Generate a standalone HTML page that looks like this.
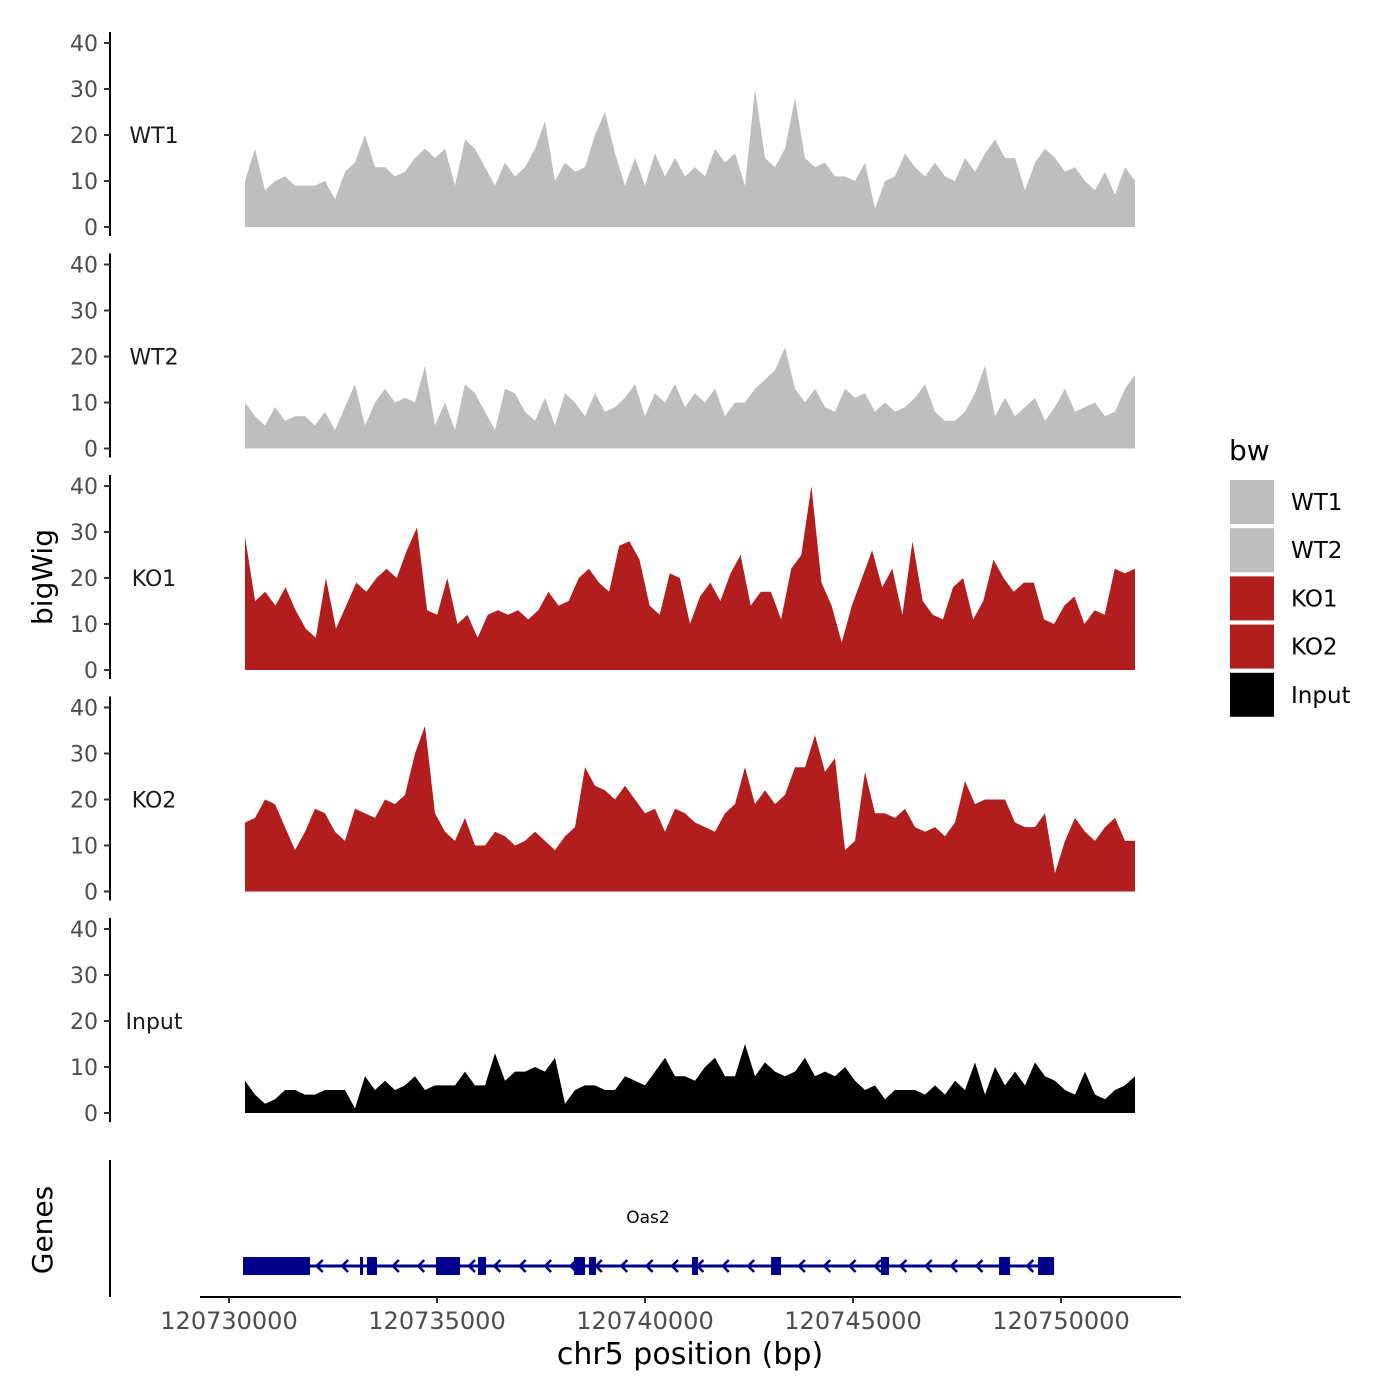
<!DOCTYPE html>
<html><head><meta charset="utf-8"><style>
body{margin:0;background:#fff;}
svg{display:block;font-family:"DejaVu Sans","Liberation Sans",sans-serif;}
</style></head><body>
<svg id="chart" width="1400" height="1400">
<g id="panels"></g>
<g id="genes"></g>
<g id="xaxis"></g>
<g id="legend"></g>
</svg>
<script>
const trackNames = ["WT1","WT2","KO1","KO2","Input"];
const trackColors = ["#bebebe","#bebebe","#b21e1e","#b21e1e","#000000"];
const dataStart = 120730385;
const dataEnd = 120751780;
const wt1 = [10,17,8,10,11,9,9,9,10,6,12,14,20,13,13,11,12,15,17,15,17,9,19,17,13,9,14,11,13,17,23,10,14,12,13,20,25,16,9,15,9,16,11,15,11,13,11,17,14,16,9,30,15,13,17,28,15,13,14,11,11,10,14,4,10,11,16,13,11,14,11,10,15,12,16,19,15,15,8,14,17,15,12,13,10,8,12,7,13,10];
const wt2 = [10,7,5,9,6,7,7,5,8,4,9,14,5,10,13,10,11,10,18,5,10,4,14,12,8,4,13,12,8,6,11,5,12,10,7,12,8,9,11,14,7,12,10,14,9,12,10,13,7,10,10,13,15,17,22,13,10,13,9,8,13,11,12,8,10,8,9,11,14,8,6,6,8,12,18,7,11,7,9,11,6,9,13,8,9,10,7,8,13,16];
const ko1 = [29,15,17,14,18,13,9,7,20,9,14,19,17,20,22,20,26,31,13,12,20,10,12,7,12,13,12,13,11,13,17,14,15,20,22,19,17,27,28,24,14,12,21,20,10,16,19,15,21,25,14,17,17,11,22,25,40,19,14,6,14,20,26,18,22,12,28,15,12,11,18,20,11,15,24,20,17,19,19,11,10,14,16,10,13,12,22,21,22];
const ko2 = [15,16,20,19,14,9,13,18,17,13,11,18,17,16,20,19,21,30,36,17,13,11,16,10,10,13,12,10,11,13,11,9,12,14,27,23,22,20,23,20,17,18,13,18,17,15,14,13,17,19,27,19,22,19,21,27,27,34,26,29,9,11,26,17,17,16,18,14,13,14,12,15,24,19,20,20,20,15,14,14,17,4,11,16,13,11,14,16,11,11];
const input = [7,4,2,3,5,5,4,4,5,5,5,1,8,5,7,5,6,8,5,6,6,6,9,6,6,13,7,9,9,10,9,12,2,5,6,6,5,5,8,7,6,9,12,8,8,7,10,12,8,8,15,8,11,9,8,9,12,8,9,8,10,7,5,6,3,5,5,5,4,6,4,7,5,11,4,10,6,9,6,11,8,7,5,4,9,4,3,5,6,8];
const yTicks = [0,10,20,30,40];
const xTicks = [120730000,120735000,120740000,120745000,120750000];
const exonStarts = [120730337,120733149,120733317,120734976,120735986,120738294,120738654,120741130,120743030,120745674,120748511,120749448];
const exonEnds   = [120731947,120733221,120733558,120735553,120736178,120738558,120738822,120741274,120743270,120745866,120748775,120749833];
const geneName = "Oas2";
const geneStart = 120730337, geneEnd = 120749833;

const series = [wt1,wt2,ko1,ko2,input];
const NS="http://www.w3.org/2000/svg";
function mk(tag,attrs,parent){const e=document.createElementNS(NS,tag);for(const k in attrs)e.setAttribute(k,attrs[k]);parent.appendChild(e);return e;}
const xScale = bp => 229 + (bp-120730000)/20000*832;
const panelBase = i => 227 + i*221.5;
const yScale = (i,v) => panelBase(i) - v*4.6;

const panels=document.getElementById('panels');
series.forEach((vals,i)=>{
  const g=mk('g',{},panels);
  
  
  const n=vals.length;
  let d='M'+xScale(dataStart)+','+panelBase(i);
  vals.forEach((v,j)=>{const bp=dataStart+(dataEnd-dataStart)*j/(n-1);d+=' L'+xScale(bp).toFixed(1)+','+yScale(i,v).toFixed(1);});
  d+=' L'+xScale(dataEnd)+','+panelBase(i)+' Z';
  const p=mk('path',{d:d,fill:trackColors[i]},g);
  
  
  const ax=mk('line',{x1:110,x2:110,y1:yScale(i,40)-11,y2:panelBase(i)+9,stroke:'#000','stroke-width':2},g);
  
  
  yTicks.forEach(t=>{
    const y=yScale(i,t);
    mk('line',{x1:104,x2:110,y1:y,y2:y,stroke:'#333','stroke-width':2},g);
    const tx=mk('text',{x:98,y:y+8,'text-anchor':'end','font-size':22,fill:'#4d4d4d'},g);
    tx.textContent=t;
    
    
  });
  const lb=mk('text',{x:154,y:yScale(i,20)+8,'text-anchor':'middle','font-size':22,fill:'#1a1a1a'},g);
  lb.textContent=trackNames[i];
  
  
});
const yt=mk('text',{x:52,y:577,'text-anchor':'middle','font-size':28,transform:'rotate(-90 52 577)'},panels);
yt.textContent='bigWig';



const genes=document.getElementById('genes');
const gl=mk('line',{x1:110,x2:110,y1:1160,y2:1297,stroke:'#000','stroke-width':2},genes);


const gt=mk('text',{x:52,y:1230,'text-anchor':'middle','font-size':28,transform:'rotate(-90 52 1230)'},genes);
gt.textContent='Genes';


const gy=1266;
const intron=mk('line',{x1:xScale(geneStart),x2:xScale(geneEnd),y1:gy,y2:gy,stroke:'#00008b','stroke-width':3},genes);


for(let bp=geneStart+600;bp<geneEnd-200;bp+=610){
  const x=xScale(bp);
  mk('path',{d:`M${x+4},${gy-6} L${x-2},${gy} L${x+4},${gy+6}`,stroke:'#00008b','stroke-width':2.5,fill:'none'},genes);
}
exonStarts.forEach((s,k)=>{
  const x1=xScale(s),x2=xScale(exonEnds[k]);
  const r=mk('rect',{x:x1,y:gy-9,width:Math.max(3,x2-x1),height:18,fill:'#00008b'},genes);
  
  
});
const gn=mk('text',{x:648,y:1223,'text-anchor':'middle','font-size':17},genes);
gn.textContent=geneName;



const xa=document.getElementById('xaxis');
mk('line',{x1:200,x2:1181,y1:1297,y2:1297,stroke:'#000','stroke-width':2},xa);
xTicks.forEach(t=>{
  const x=xScale(t);
  mk('line',{x1:x,x2:x,y1:1297,y2:1303,stroke:'#333','stroke-width':2},xa);
  const tx=mk('text',{x:x,y:1329,'text-anchor':'middle','font-size':24,fill:'#4d4d4d'},xa);
  tx.textContent=t;
  
  
});
const xt=mk('text',{x:690,y:1364,'text-anchor':'middle','font-size':30},xa);
xt.textContent='chr5 position (bp)';



const lg=document.getElementById('legend');
const lt=mk('text',{x:1229,y:460,'font-size':28},lg);
lt.textContent='bw';


trackNames.forEach((nm,i)=>{
  const y=480+i*48.2;
  const g=mk('g',{},lg);
  
  
  mk('rect',{x:1230,y:y,width:44,height:44,fill:trackColors[i]},g);
  const t=mk('text',{x:1291,y:y+30,'font-size':23},g);
  t.textContent=nm;
});
</script>
</body></html>
